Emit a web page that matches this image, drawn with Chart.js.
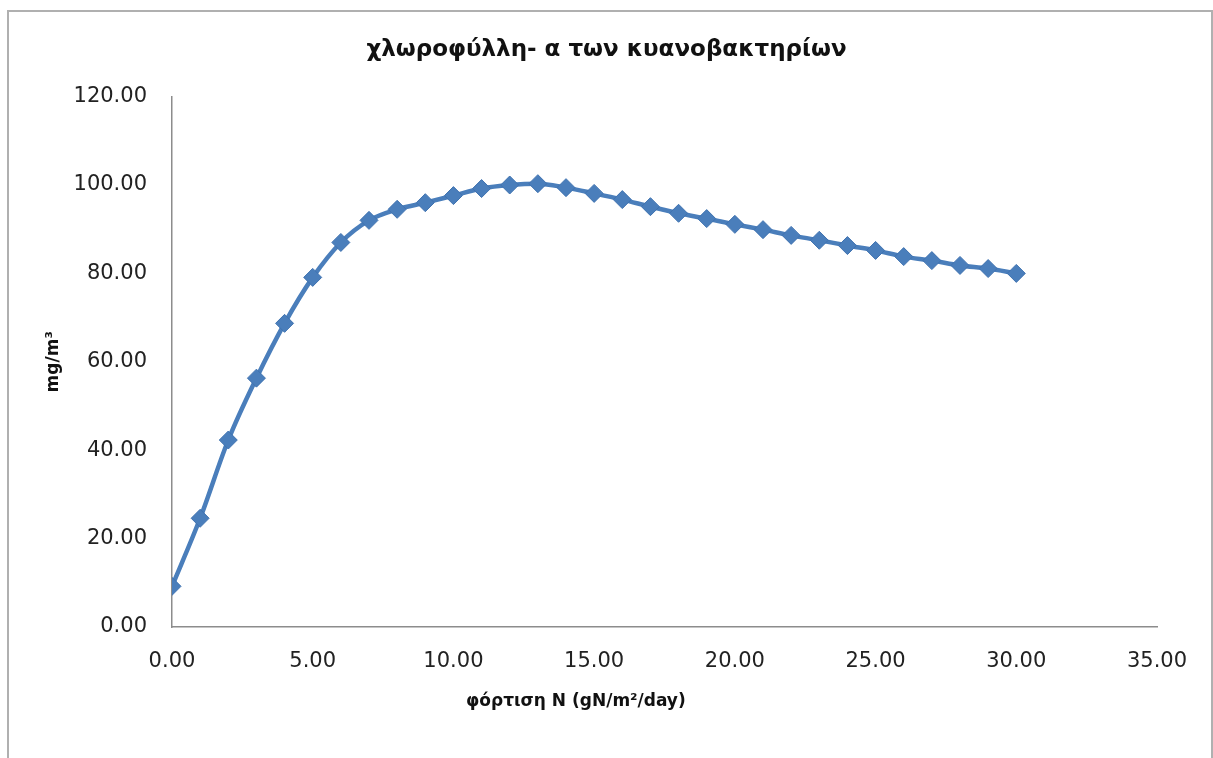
<!DOCTYPE html>
<html>
<head>
<meta charset="utf-8">
<script src="https://cdn.jsdelivr.net/npm/chart.js@4"></script>
<style>
    body { margin: 0; background: #fff; }
    #frame { position: absolute; left: 7px; top: 10px; width: 1202px; height: 800px;
             border: 2px solid #b0b0b0; border-bottom: none; }
    #myChart { position: absolute; left: 0; top: 0; }
</style>
</head>
<body>
<div id="frame"></div>
<canvas id="myChart" width="1213" height="758"></canvas>
<script>
let load_x = [0, 1, 2, 3, 4, 5, 6, 7, 8, 9, 10, 11, 12, 13, 14, 15, 16, 17, 18, 19, 20, 21, 22, 23, 24, 25, 26, 27, 28, 29, 30];
let chl_a = [9.2, 24.6, 42.3, 56.3, 68.7, 79.1, 87.0, 92.0, 94.5, 96.0, 97.6, 99.2, 100.0, 100.3, 99.4, 98.1, 96.7, 95.1, 93.6, 92.4,
             91.1, 89.9, 88.6, 87.5, 86.3, 85.2, 83.8, 82.9, 81.8, 81.1, 80.0];

let chartTitle = "χλωροφύλλη- α των κυανοβακτηρίων";
let xTitle = "φόρτιση N (gN/m²/day)";
let yTitle = "mg/m³";

let points = load_x.map((x, i) => ({ x: x, y: chl_a[i] }));

// axis titles drawn by hand, Excel put the x one off-centre
const axisTitles = {
    id: 'axisTitles',
    afterDraw(chart)
    {
        let ctx = chart.ctx;
        let area = chart.chartArea;
        ctx.save();
        ctx.fillStyle = '#111';
        ctx.font = 'bold 17px "DejaVu Sans"';
        ctx.textAlign = 'center';
        ctx.textBaseline = 'middle';
        ctx.fillText(xTitle, area.left + (area.right - area.left) * 0.41, area.bottom + 75);

        ctx.translate(54, (area.top + area.bottom) / 2);
        ctx.rotate(-Math.PI / 2);
        ctx.fillText(yTitle, 0, 0);
        ctx.restore();
    }
};

let weatherChart = new Chart(document.getElementById('myChart'),
    {
        type: 'line',
        data:
        {
            datasets: [{
                label: 'chl-a',
                data: points,
                borderColor: '#4a7ebb',
                backgroundColor: '#4a7ebb',
                borderWidth: 4.5,
                cubicInterpolationMode: 'monotone',
                pointStyle: 'rectRot',
                pointRadius: 9,
                pointBorderWidth: 1,
                pointBorderColor: '#3f72b0'
            }]
        },
        options:
        {
            responsive: false,
            animation: false,
            layout: { padding: 0 },
            plugins: {
                legend: { display: false },
                tooltip: { enabled: false },
                title: {
                    display: true,
                    text: chartTitle,
                    color: '#111',
                    font: { family: 'DejaVu Sans', size: 23, weight: 'bold' },
                    padding: { top: 36, bottom: 33 }
                }
            },
            scales: {
                x: {
                    type: 'linear',
                    min: 0,
                    max: 35,
                    grid: { display: false, drawTicks: false },
                    border: { display: true, color: '#8c8c8c', width: 1.5 },
                    ticks: {
                        stepSize: 5,
                        padding: 0,
                        color: '#222',
                        // tall line box drops the labels below the axis like in Excel
                        font: { family: 'DejaVu Sans', size: 21, lineHeight: 3.3 },
                        maxRotation: 0,
                        callback: v => v.toFixed(2)
                    },
                    afterFit: s => { s.height = 131; }
                },
                y: {
                    min: 0,
                    max: 120,
                    grid: { display: false, drawTicks: false },
                    border: { display: true, color: '#8c8c8c', width: 1.5 },
                    ticks: {
                        stepSize: 20,
                        padding: 25,
                        color: '#222',
                        font: { family: 'DejaVu Sans', size: 21 },
                        callback: v => v.toFixed(2)
                    },
                    afterFit: s => { s.width = 172; }
                },
                // empty right-hand box, keeps the plot narrower than the title
                spacer: {
                    position: 'right',
                    min: 0,
                    max: 1,
                    grid: { display: false, drawTicks: false },
                    border: { display: false },
                    ticks: { display: false },
                    afterFit: s => { s.width = 56; }
                }
            }
        },
        plugins: [axisTitles]
    }
);
</script>
</body>
</html>
